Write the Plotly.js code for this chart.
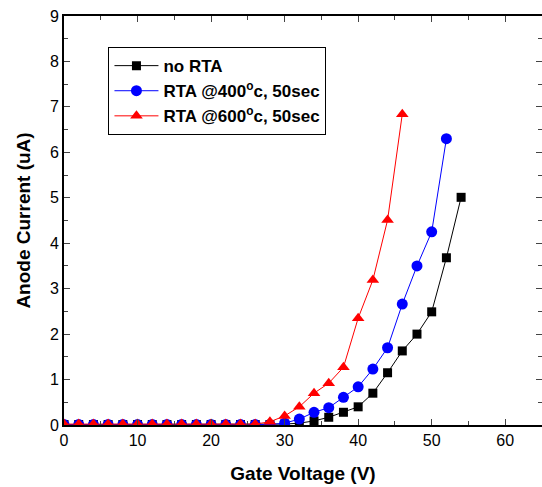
<!DOCTYPE html>
<html>
<head>
<meta charset="utf-8">
<script src="https://cdn.plot.ly/plotly-3.0.1.min.js"></script>
<style>html,body{margin:0;padding:0;background:#fff;}#chart{width:542px;height:487px;}</style>
</head>
<body>
<div id="chart"></div>
<script>
// Gate voltage (V)
var voltsNoRTA = [0,2,4,6,8,10,12,14,16,18,20,22,24,26,28,30,32,34,36,38,40,42,44,46,48,50,52,54];
var currentNoRTA = [0.01,0.01,0.01,0.01,0.01,0.01,0.01,0.01,0.01,0.01,0.01,0.01,0.01,0.01,0.01,0.02,0.04,0.09,0.17,0.28,0.40,0.70,1.15,1.63,2.00,2.49,3.68,5.01];

var volts400 = [0,2,4,6,8,10,12,14,16,18,20,22,24,26,28,30,32,34,36,38,40,42,44,46,48,50,52];
var current400 = [0.01,0.01,0.01,0.01,0.01,0.01,0.01,0.01,0.01,0.01,0.01,0.01,0.01,0.01,0.01,0.04,0.13,0.28,0.38,0.61,0.84,1.23,1.70,2.66,3.50,4.25,6.30];

var volts600 = [0,2,4,6,8,10,12,14,16,18,20,22,24,26,28,30,32,34,36,38,40,42,44,46];
var current600 = [0.02,0.02,0.02,0.02,0.02,0.02,0.02,0.02,0.02,0.02,0.02,0.02,0.02,0.02,0.07,0.20,0.40,0.70,0.92,1.27,2.35,3.19,4.51,6.84];

var seriesNames = ["no RTA", "RTA @400<sup>o</sup>c, 50sec", "RTA @600<sup>o</sup>c, 50sec"];

var traces = [
  {x: voltsNoRTA, y: currentNoRTA, name: seriesNames[0], mode: "lines+markers", type: "scatter",
   line: {color: "#000000", width: 1}, marker: {symbol: "square", size: 9, color: "#000000"}},
  {x: volts400, y: current400, name: seriesNames[1], mode: "lines+markers", type: "scatter",
   line: {color: "#0000ff", width: 1}, marker: {symbol: "circle", size: 11, color: "#0000ff"}},
  {x: volts600, y: current600, name: seriesNames[2], mode: "lines+markers", type: "scatter",
   line: {color: "#ff0000", width: 1}, marker: {symbol: "triangle-up", size: 11, color: "#ff0000"}}
];

var layout = {
  width: 542, height: 487,
  margin: {l: 63.5, r: 0, t: 16, b: 62},
  paper_bgcolor: "#ffffff", plot_bgcolor: "#ffffff",
  font: {family: "Liberation Sans, Arial, sans-serif", size: 16, color: "#000"},
  showlegend: true,
  legend: {x: 0.093, y: 0.924, xanchor: "left", yanchor: "top",
    bgcolor: "#ffffff", bordercolor: "#000", borderwidth: 1,
    font: {family: "Liberation Sans, Arial, sans-serif", size: 17, weight: "bold", color: "#000"},
    tracegroupgap: 0, itemwidth: 44},
  xaxis: {range: [0, 65], dtick: 10, tick0: 0, ticks: "inside", ticklen: 6, tickwidth: 1,
    showline: true, linewidth: 2, linecolor: "#000", mirror: "ticks", showgrid: false, zeroline: false,
    minor: {dtick: 5, ticks: "inside", ticklen: 4, tickwidth: 1, showgrid: false},
    tickfont: {size: 16},
    title: {text: "Gate Voltage (V)", font: {size: 19, weight: "bold"}, standoff: 18}},
  yaxis: {range: [0, 9], dtick: 1, tick0: 0, ticks: "inside", ticklen: 6, tickwidth: 1,
    showline: true, linewidth: 2, linecolor: "#000", mirror: "ticks", showgrid: false, zeroline: false,
    minor: {dtick: 0.5, ticks: "inside", ticklen: 4, tickwidth: 1, showgrid: false},
    tickfont: {size: 16},
    title: {text: "Anode Current (uA)", font: {size: 19, weight: "bold"}, standoff: 14}}
};

Plotly.newPlot("chart", traces, layout, {displayModeBar: false, staticPlot: true});
</script>
</body>
</html>
